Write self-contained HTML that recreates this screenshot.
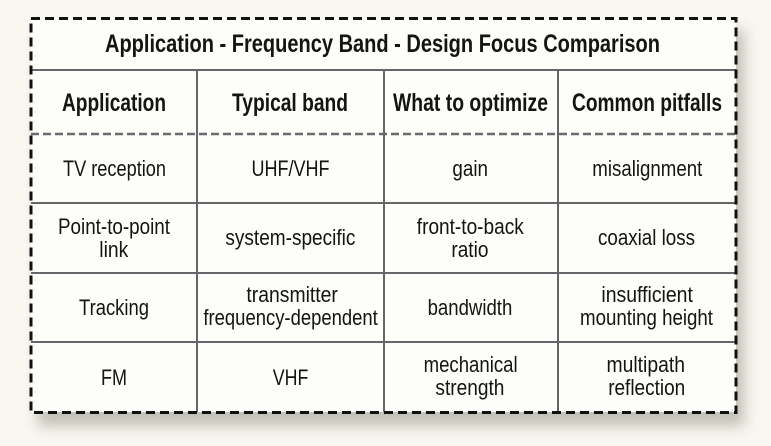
<!DOCTYPE html>
<html><head><meta charset="utf-8"><style>
html,body{margin:0;padding:0;background:#f8f7f0;}
svg{display:block;}
text{font-family:"Liberation Sans",Arial,sans-serif;fill:#141414;}
.b{font-weight:bold;font-size:25px;}
.r{font-size:22px;}
</style></head><body>
<svg width="771" height="446" viewBox="0 0 771 446" xmlns="http://www.w3.org/2000/svg">
<defs>
<filter id="sh" x="-10%" y="-10%" width="130%" height="130%"><feGaussianBlur stdDeviation="7"/></filter>
</defs>
<rect x="0" y="0" width="771" height="446" fill="#f8f7f0"/>
<rect x="38" y="30" width="706" height="396" fill="#8a8a80" opacity="0.5" filter="url(#sh)"/>
<rect x="31" y="18" width="705" height="394" fill="#fdfdf9"/>
<!-- grid -->
<g stroke="#66666a" stroke-width="2" fill="none">
<line x1="31" y1="70" x2="736" y2="70"/>
<line x1="31" y1="203" x2="736" y2="203"/>
<line x1="31" y1="273" x2="736" y2="273"/>
<line x1="31" y1="342" x2="736" y2="342"/>
<line x1="197" y1="70" x2="197" y2="412"/>
<line x1="384" y1="70" x2="384" y2="412"/>
<line x1="558" y1="70" x2="558" y2="412"/>
</g>
<rect x="31" y="131" width="705" height="6" fill="#fdfdf9"/>
<line x1="31" y1="134" x2="736" y2="134" stroke="#6a6a6e" stroke-width="2.5" stroke-dasharray="8 4"/>
<line x1="197" y1="131" x2="197" y2="137" stroke="#66666a" stroke-width="2"/>
<line x1="384" y1="131" x2="384" y2="137" stroke="#66666a" stroke-width="2"/>
<line x1="558" y1="131" x2="558" y2="137" stroke="#66666a" stroke-width="2"/>
<rect x="31" y="18.5" width="705" height="394" fill="none" stroke="#111" stroke-width="3" stroke-dasharray="9 5"/>
<!-- title -->
<text class="b" x="105" y="52" textLength="555" lengthAdjust="spacingAndGlyphs">Application - Frequency Band - Design Focus Comparison</text>
<!-- headers -->
<text class="b" x="62" y="111" textLength="104" lengthAdjust="spacingAndGlyphs">Application</text>
<text class="b" x="232" y="111" textLength="116" lengthAdjust="spacingAndGlyphs">Typical band</text>
<text class="b" x="393" y="111" textLength="155" lengthAdjust="spacingAndGlyphs">What to optimize</text>
<text class="b" x="572" y="111" textLength="150" lengthAdjust="spacingAndGlyphs">Common pitfalls</text>
<!-- row 1 -->
<text class="r" x="63" y="176" textLength="103" lengthAdjust="spacingAndGlyphs">TV reception</text>
<text class="r" x="251.5" y="176" textLength="78" lengthAdjust="spacingAndGlyphs">UHF/VHF</text>
<text class="r" x="452.4" y="176" textLength="35.6" lengthAdjust="spacingAndGlyphs">gain</text>
<text class="r" x="592.3" y="176" textLength="110" lengthAdjust="spacingAndGlyphs">misalignment</text>
<!-- row 2 -->
<text class="r" x="58" y="234" textLength="112" lengthAdjust="spacingAndGlyphs">Point-to-point</text>
<text class="r" x="99.3" y="257" textLength="29" lengthAdjust="spacingAndGlyphs">link</text>
<text class="r" x="225.4" y="245" textLength="130" lengthAdjust="spacingAndGlyphs">system-specific</text>
<text class="r" x="416.8" y="234" textLength="107" lengthAdjust="spacingAndGlyphs">front-to-back</text>
<text class="r" x="451.4" y="257" textLength="37" lengthAdjust="spacingAndGlyphs">ratio</text>
<text class="r" x="598" y="245" textLength="97" lengthAdjust="spacingAndGlyphs">coaxial loss</text>
<!-- row 3 -->
<text class="r" x="79" y="315" textLength="70" lengthAdjust="spacingAndGlyphs">Tracking</text>
<text class="r" x="246.4" y="302" textLength="91.5" lengthAdjust="spacingAndGlyphs">transmitter</text>
<text class="r" x="203.4" y="325" textLength="174.4" lengthAdjust="spacingAndGlyphs">frequency-dependent</text>
<text class="r" x="427.6" y="315" textLength="84.7" lengthAdjust="spacingAndGlyphs">bandwidth</text>
<text class="r" x="601.4" y="302" textLength="91.5" lengthAdjust="spacingAndGlyphs">insufficient</text>
<text class="r" x="580" y="325" textLength="133" lengthAdjust="spacingAndGlyphs">mounting height</text>
<!-- row 4 -->
<text class="r" x="101" y="385" textLength="26" lengthAdjust="spacingAndGlyphs">FM</text>
<text class="r" x="272.8" y="385" textLength="35.6" lengthAdjust="spacingAndGlyphs">VHF</text>
<text class="r" x="423.6" y="372" textLength="94" lengthAdjust="spacingAndGlyphs">mechanical</text>
<text class="r" x="435.4" y="395" textLength="69" lengthAdjust="spacingAndGlyphs">strength</text>
<text class="r" x="606.5" y="372" textLength="78.5" lengthAdjust="spacingAndGlyphs">multipath</text>
<text class="r" x="608.2" y="395" textLength="77" lengthAdjust="spacingAndGlyphs">reflection</text>
</svg>
</body></html>
